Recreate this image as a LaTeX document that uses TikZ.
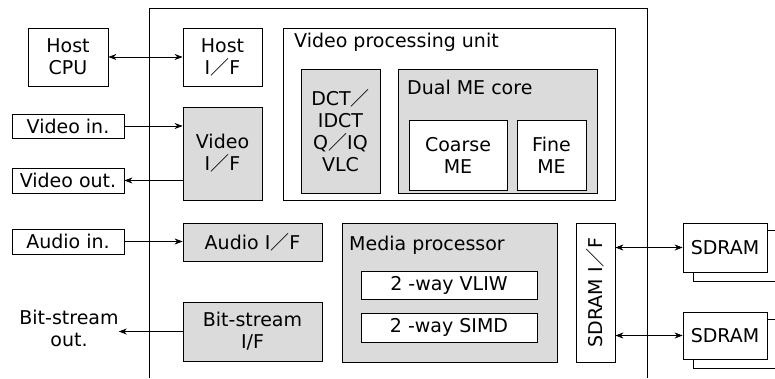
\documentclass[tikz,border=0pt]{standalone}
\usepackage{fontspec}
\setmainfont{DejaVu Sans}
\newfontfamily\cjk{Noto Sans CJK JP}
\newcommand\fsl{{\cjk ／}}
\usetikzlibrary{arrows.meta}

\tikzset{
  lbl/.style={font=\fontsize{19}{22}\selectfont, align=center, inner sep=0pt},
  blk/.style={lbl, draw, line width=0.8pt},
  wbox/.style={blk, fill=white},
  gbox/.style={blk, fill=black!14},
  ttl/.style={lbl, anchor=base west},
  conn/.style={line width=0.7pt, -{Stealth[length=8pt,width=6pt]}},
  bconn/.style={line width=0.7pt, {Stealth[length=8pt,width=6pt]}-{Stealth[length=8pt,width=6pt]}},
}

\begin{document}
\begin{tikzpicture}[x=1pt, y=-1pt]
\useasboundingbox (0,0) rectangle (775,378);
\clip (0,0) rectangle (775,378);

% chip outline (open at the bottom)
\draw[line width=0.9pt] (149,378) -- (149,8) -- (647,8) -- (647,378);

% off-chip blocks
\node[wbox, minimum width=80pt, minimum height=58pt] (hcpu) at (68,57) {Host\\CPU};
\node[wbox, minimum width=112pt, minimum height=24pt] (vin) at (68,126) {Video in.};
\node[wbox, minimum width=112pt, minimum height=25pt] (vout) at (68,180.5) {Video out.};
\node[wbox, minimum width=112pt, minimum height=25pt] (ain) at (68,241.5) {Audio in.};
\node[lbl] (bsout) at (69,328) {Bit-stream\\out.};

% interfaces
\node[wbox, minimum width=79pt, minimum height=58pt] (hif) at (222.5,57) {Host\\I\fsl F};
\node[gbox, minimum width=79pt, minimum height=93pt] (vif) at (222.5,153.5) {Video\\I\fsl F};
\node[gbox, minimum width=139pt, minimum height=38pt] (aif) at (252.5,242) {Audio I\fsl F};
\node[gbox, minimum width=139pt, minimum height=59pt] (bif) at (252.5,331.5) {Bit-stream\\I/F};

% video processing unit
\node[wbox, minimum width=332pt, minimum height=172pt] (vpu) at (449,114) {};
\node[ttl] (vput) at (294,47) {Video processing unit};
\node[gbox, minimum width=79pt, minimum height=124pt] (dct) at (340.5,131) {DCT\fsl\\IDCT\\Q\fsl IQ\\VLC};
\node[gbox, minimum width=199pt, minimum height=124pt] (dme) at (497.5,131) {};
\node[ttl] (dmet) at (407,94) {Dual ME core};
\node[wbox, minimum width=98pt, minimum height=70pt] (cme) at (458,155) {Coarse\\ME};
\node[wbox, minimum width=69pt, minimum height=70pt] (fme) at (551.5,155) {Fine\\ME};

% media processor
\node[gbox, minimum width=215pt, minimum height=139pt] (mp) at (449.5,292.5) {};
\node[ttl] (mpt) at (349,250) {Media processor};
\node[wbox, minimum width=176pt, minimum height=28pt] (vliw) at (449,285) {2 -way VLIW};
\node[wbox, minimum width=176pt, minimum height=29pt] (simd) at (449,327.5) {2 -way SIMD};

% memory interface
\node[wbox, minimum width=39pt, minimum height=139pt] (sdif) at (595.5,292.5) {};
\node[lbl, rotate=90] (sdift) at (sdif.center) {SDRAM I\fsl F};

% external memories (stacked)
\node[wbox, minimum width=84pt, minimum height=51pt] (sd1b) at (735,255.5) {};
\node[wbox, minimum width=84pt, minimum height=49pt] (sd1) at (725,247.5) {SDRAM};
\node[wbox, minimum width=84pt, minimum height=49pt] (sd2b) at (735,343.5) {};
\node[wbox, minimum width=84pt, minimum height=47pt] (sd2) at (725,335.5) {SDRAM};

% connectors
\draw[bconn] (hcpu.east) -- (hif.west);
\draw[conn] (vin.east) -- (vin.east -| vif.west);
\draw[conn] (vout.east -| vif.west) -- (vout.east);
\draw[conn] (ain.east) -- (ain.east -| aif.west);
\draw[conn] (bif.west) -- (bif.west -| bsout.east);
\draw[bconn] (sd1.west -| sdif.east) -- (sd1.west);
\draw[bconn] (sd2.west -| sdif.east) -- (sd2.west);
\end{tikzpicture}
\end{document}
